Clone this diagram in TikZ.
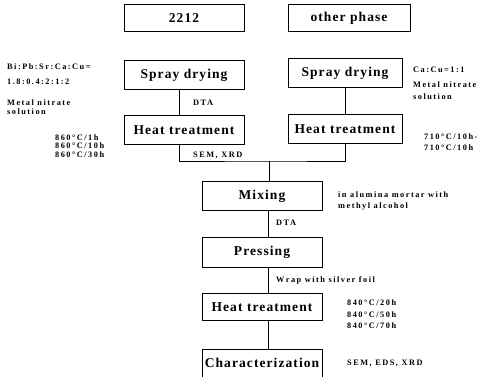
\documentclass[tikz,border=0pt]{standalone}
\usepackage{fontspec}
\setmainfont{Liberation Serif}
\newfontfamily\boxfont[LetterSpace=8]{Liberation Serif}
\newfontfamily\notefont[LetterSpace=18]{Liberation Serif}

\tikzset{
  stepbox/.style={draw, line width=0.8pt, minimum width=120pt, minimum height=29pt,
    inner sep=0pt, font=\boxfont\bfseries\fontsize{13.5}{15}\selectfont},
  note/.style={anchor=west, inner sep=0pt, align=left,
    font=\notefont\bfseries\fontsize{8.3}{9}\selectfont},
  link/.style={line width=0.8pt}
}

\begin{document}
\begin{tikzpicture}[x=1pt, y=-1pt]
  \useasboundingbox (0,0) rectangle (485,377);
  % Starting phases
  \node[stepbox, minimum height=27pt] (p2212) at (184,18) {2212};
  \node[stepbox, minimum width=122pt, minimum height=27pt] (other) at (349,18) {other phase};
  % Left column
  \node[stepbox] (spray1) at (184,75) {Spray drying};
  \node[stepbox] (heat1) at (184,130) {Heat treatment};
  % Right column
  \node[stepbox, minimum width=114pt] (spray2) at (345,73) {Spray drying};
  \node[stepbox, minimum width=114pt] (heat2) at (345,129) {Heat treatment};
  % Main column
  \node[stepbox] (mix) at (262,196) {Mixing};
  \node[stepbox, minimum height=30pt] (press) at (262,252) {Pressing};
  \node[stepbox, minimum height=27pt] (heat3) at (262,307) {Heat treatment};
  \node[stepbox, minimum height=28pt] (char) at (262,363) {Characterization};

  % Connectors
  \coordinate (join) at (269,161);
  \draw[link] ([xshift=-5pt]spray1.south) -- ([xshift=-5pt]heat1.north);
  \draw[link] (spray2.south) -- (heat2.north);
  \draw[link] ([xshift=-5pt]heat1.south) |- (join) -| (heat2.south);
  \draw[link] (join) -- (join |- mix.north);
  \draw[link] ([xshift=6pt]mix.south) -- ([xshift=6pt]press.north);
  \draw[link] ([xshift=6pt]press.south) -- ([xshift=6pt]heat3.north);
  \draw[link] ([xshift=6pt]heat3.south) -- ([xshift=6pt]char.north);

  % Notes on the left
  \node[note] (ratio1) at (7,67) {Bi:Pb:Sr:Ca:Cu=};
  \node[note] (ratio1b) at (7,82) {1.8:0.4:2:1:2};
  \node[note] (nitrate1) at (7,107) {Metal nitrate\\solution};
  \foreach \hours [count=\i] in {1,10,30}
    \node[note] (t860\i) at (55,128.5+8.7*\i) {860°C/\hours h};
  \node[note] (dta1) at (193,103) {DTA};
  \node[note] (sem1) at (193,155) {SEM, XRD};

  % Notes on the right
  \node[note] (ratio2) at (413,70) {Ca:Cu=1:1};
  \node[note, font=\notefont\bfseries\fontsize{8.3}{12}\selectfont] (nitrate2) at (413,91) {Metal nitrate\\solution};
  \node[note, font=\notefont\bfseries\fontsize{8.3}{11}\selectfont] (t710) at (424,142) {710°C/10h-\\710°C/10h};

  % Notes on the main column
  \node[note, font=\notefont\bfseries\fontsize{8.3}{11}\selectfont] (mortar) at (338,201) {in alumina mortar with\\methyl alcohol};
  \node[note] (dta2) at (276,223) {DTA};
  \node[note] (foil) at (276,280) {Wrap with silver foil};
  \foreach \hours [count=\i] in {20,50,70}
    \node[note] (t840\i) at (347,291.5+11.5*\i) {840°C/\hours h};
  \node[note] (sem2) at (347,363) {SEM, EDS, XRD};
\end{tikzpicture}
\end{document}
